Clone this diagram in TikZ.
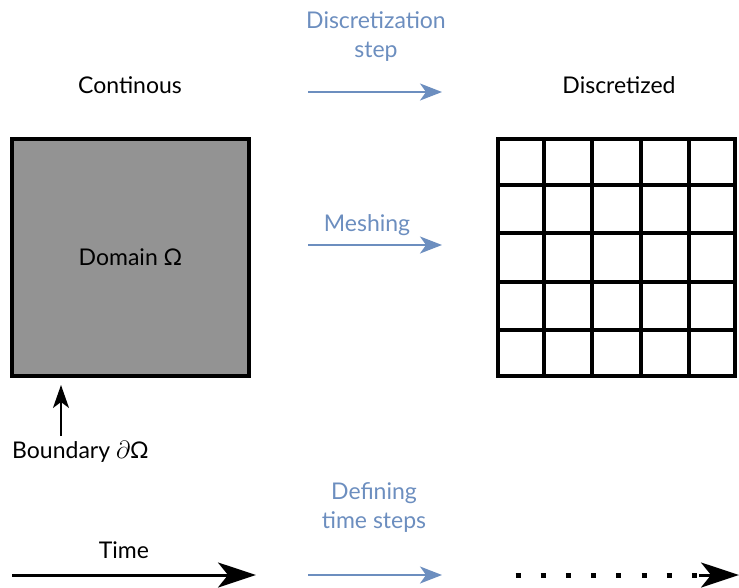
\documentclass[tikz,border=0pt]{standalone}
\usepackage{fontspec}
\setmainfont{Lato}
\usetikzlibrary{arrows.meta,calc}
\definecolor{flowblue}{HTML}{6C8EBF}
\definecolor{domaingray}{HTML}{939393}
\begin{document}
\begin{tikzpicture}[x=1pt,y=-1pt,
  every node/.style={font=\fontsize{23}{29}\selectfont, inner sep=0pt, align=center},
  bluelabel/.style={text=flowblue},
  stepflow/.style={draw=flowblue, line width=1.6pt, -{Stealth[length=22pt,width=17pt,inset=6pt]}},
  heavy/.style={line width=4pt, line join=miter},
  bigarrow/.style={line width=3pt, -{Stealth[length=38pt,width=25pt,inset=10pt]}}
]
\useasboundingbox (0,0) rectangle (739,587);

% headings
\node (cont) at (130,85) {Continous};
\node (disc) at (619,85) {Discretized};

% continuous domain
\node[draw, heavy, fill=domaingray, minimum width=237pt, minimum height=237pt] (dom) at (130.5,257.5) {};
\node at (dom.center) {Domain Ω};

% discretized grid (5 x 5 cells)
\node[draw, heavy, fill=white, minimum width=237pt, minimum height=237pt] (grid) at (616.5,257.5) {};
\foreach \i in {1,...,4} {
  \draw[heavy] ($(grid.north west)!\i/5!(grid.north east)$) -- ($(grid.south west)!\i/5!(grid.south east)$);
  \draw[heavy] ($(grid.north west)!\i/5!(grid.south west)$) -- ($(grid.north east)!\i/5!(grid.south east)$);
}

% boundary annotation
\node[anchor=west] (bnd) at (12,452) {Boundary $\partial$Ω};
\coordinate (btail) at (61,436);
\coordinate (btip) at (61,385);
\draw[line width=1.6pt, -{Stealth[length=23pt,width=16pt,inset=6pt]}] (btail) -- (btip);

% process steps
\node[bluelabel] (lstep) at (376,37) {Discretization\\step};
\coordinate (s1a) at (308,92);
\coordinate (s1b) at (442,92);
\draw[stepflow] (s1a) -- (s1b);

\node[bluelabel] (lmesh) at (367,225) {Meshing};
\coordinate (s2a) at (308,245);
\coordinate (s2b) at (442,245);
\draw[stepflow] (s2a) -- (s2b);

\node[bluelabel] (ltime) at (374,508) {Defining\\time steps};
\coordinate (s3a) at (308,575);
\coordinate (s3b) at (442,575);
\draw[stepflow] (s3a) -- (s3b);

% time axis
\node (time) at (124,550) {Time};
\coordinate (t0) at (12,575);
\coordinate (t1) at (256,575);
\draw[bigarrow] (t0) -- (t1);

% discrete time axis
\coordinate (d0) at (515.5,575);
\coordinate (d1) at (699,575);
\coordinate (d2) at (739,575);
\draw[line width=5pt, dash pattern=on 5pt off 20.2pt] (d0) -- (d1);
\draw[bigarrow] (d1) -- (d2);
\end{tikzpicture}
\end{document}
